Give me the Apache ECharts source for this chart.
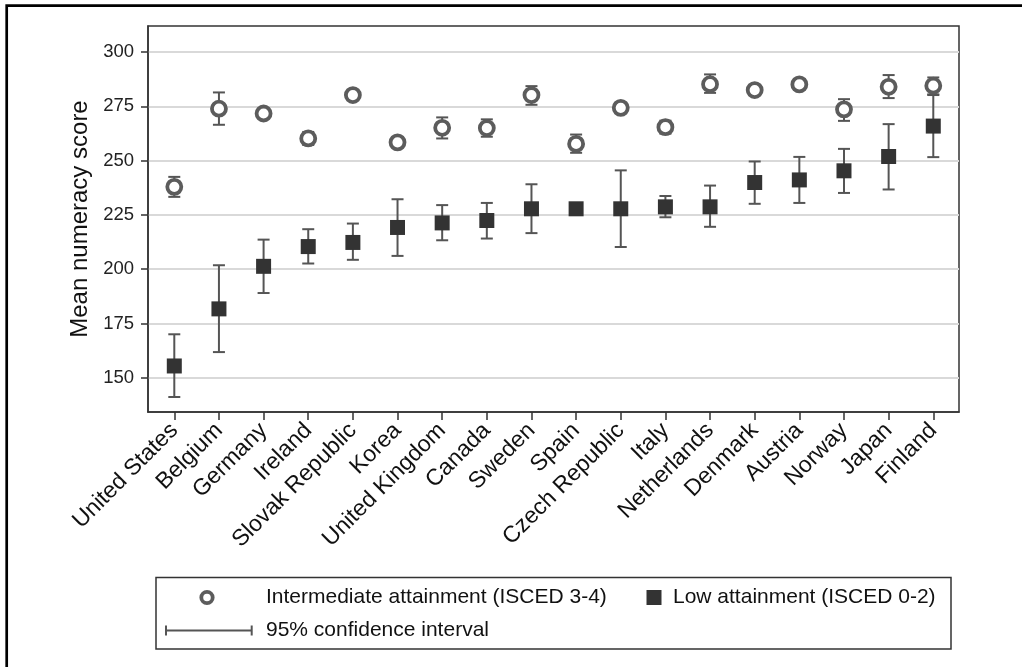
<!DOCTYPE html>
<html>
<head>
<meta charset="utf-8">
<title>Mean numeracy score</title>
<script src="https://cdn.jsdelivr.net/npm/echarts@6/dist/echarts.min.js"></script>
<style>
    html, body { margin: 0; padding: 0; background: #fff; }
    #chart { width: 1022px; height: 667px; }
</style>
</head>
<body>
<div id="chart"></div>
<script>
// countries, in the order of the chart
var countries = ['United States', 'Belgium', 'Germany', 'Ireland', 'Slovak Republic', 'Korea',
    'United Kingdom', 'Canada', 'Sweden', 'Spain', 'Czech Republic', 'Italy', 'Netherlands',
    'Denmark', 'Austria', 'Norway', 'Japan', 'Finland'];

// Intermediate attainment (ISCED 3-4): mean and 95% CI
var interMean = [237.9, 273.9, 271.7, 260.2, 280.2, 258.4, 265.1, 265.0, 280.2, 257.7, 274.3, 265.4, 285.2, 282.5, 285.1, 273.6, 284.0, 284.5];
var interLow  = [233.3, 266.5, 269.7, 257.2, 278.2, 256.4, 260.2, 261.0, 275.7, 253.6, 272.3, 262.4, 281.2, 280.5, 282.6, 268.3, 278.8, 280.5];
var interHigh = [242.5, 281.4, 273.7, 263.2, 282.2, 260.4, 269.9, 269.0, 284.3, 262.0, 276.3, 268.4, 289.7, 284.5, 287.6, 278.3, 289.4, 288.3];

// Low attainment (ISCED 0-2): mean and 95% CI
var lowMean = [155.4, 181.7, 201.3, 210.4, 212.3, 219.2, 221.3, 222.4, 227.8, 227.8, 227.8, 228.7, 228.7, 239.9, 241.1, 245.3, 251.9, 265.9];
var lowLow  = [141.1, 161.8, 189.0, 202.6, 204.3, 206.1, 213.3, 214.1, 216.6, 226.0, 210.2, 223.9, 219.5, 230.1, 230.5, 235.1, 236.7, 251.6];
var lowHigh = [170.0, 201.8, 213.6, 218.4, 221.0, 232.2, 229.5, 230.5, 239.1, 229.6, 245.5, 233.7, 238.5, 249.6, 251.7, 255.4, 266.8, 280.2];

var yTicks = [150, 175, 200, 225, 250, 275, 300];

var FONT = '"Liberation Sans", Arial, sans-serif';

var chart = echarts.init(document.getElementById('chart'), null, {renderer: 'canvas'});

var idx = countries.map(function (c, i) { return i; });

function pairs(vals) {
    return vals.map(function (v, i) { return [i, v]; });
}
function ranges(lo, hi) {
    return lo.map(function (v, i) { return [i, v, hi[i]]; });
}

//误差线
function renderBars(params, api) {
    var x = api.value(0);
    var lo = api.coord([x, api.value(1)]);
    var hi = api.coord([x, api.value(2)]);
    var w = 6;
    var style = {stroke: '#555', lineWidth: 2, fill: null};
    return {
        type: 'group',
        children: [
            {type: 'line', shape: {x1: hi[0], y1: hi[1], x2: lo[0], y2: lo[1]}, style: style},
            {type: 'line', shape: {x1: hi[0] - w, y1: hi[1], x2: hi[0] + w, y2: hi[1]}, style: style},
            {type: 'line', shape: {x1: lo[0] - w, y1: lo[1], x2: lo[0] + w, y2: lo[1]}, style: style}
        ]
    };
}

var option = {
    animation: false,
    backgroundColor: '#fff',
    textStyle: {fontFamily: FONT},
    grid: {
        left: 148, top: 26, width: 811, height: 386,
        show: true, borderColor: '#333', borderWidth: 1.5, backgroundColor: 'transparent'
    },
    xAxis: {
        type: 'value',
        min: -0.589,
        max: 17.576,
        axisLine: {show: true, onZero: false, lineStyle: {color: '#333', width: 1.5}},
        axisTick: {show: true, customValues: idx, length: 8, lineStyle: {color: '#333', width: 1.5}},
        axisLabel: {
            customValues: idx,
            rotate: 45,
            margin: 15,
            fontSize: 23,
            color: '#111',
            fontFamily: FONT,
            formatter: function (v) { return countries[Math.round(v)]; }
        },
        splitLine: {show: false}
    },
    yAxis: {
        type: 'value',
        min: 134.2,
        max: 312.0,
        name: 'Mean numeracy score',
        nameLocation: 'middle',
        nameGap: 53,
        nameTextStyle: {fontSize: 24, color: '#111', fontFamily: FONT},
        axisLine: {show: true, onZero: false, lineStyle: {color: '#333', width: 1.5}},
        axisTick: {show: true, customValues: yTicks, length: 7, lineStyle: {color: '#333', width: 1.5}},
        axisLabel: {customValues: yTicks, fontSize: 18.5, color: '#222', margin: 14, fontFamily: FONT},
        splitLine: {show: true, lineStyle: {color: '#d9d9d9', width: 2}}
    },
    series: [
        {
            name: 'ci-low',
            type: 'custom',
            renderItem: renderBars,
            encode: {x: 0, y: [1, 2]},
            data: ranges(lowLow, lowHigh),
            z: 2,
            silent: true
        },
        {
            name: 'ci-inter',
            type: 'custom',
            renderItem: renderBars,
            encode: {x: 0, y: [1, 2]},
            data: ranges(interLow, interHigh),
            z: 2,
            silent: true
        },
        {
            name: 'Low attainment (ISCED 0-2)',
            type: 'scatter',
            symbol: 'rect',
            symbolSize: 15,
            itemStyle: {color: '#333', opacity: 1},
            data: pairs(lowMean),
            z: 3,
            silent: true
        },
        {
            name: 'Intermediate attainment (ISCED 3-4)',
            type: 'scatter',
            symbol: 'circle',
            symbolSize: 14,
            itemStyle: {color: '#fff', borderColor: '#5c5c5c', borderWidth: 3.8, opacity: 1},
            data: pairs(interMean),
            z: 4,
            silent: true
        }
    ],
    graphic: [
        //外框
        {
            type: 'rect', silent: true, z: 100,
            shape: {x: 6.7, y: 5.7, width: 1100, height: 800},
            style: {fill: null, stroke: '#000', lineWidth: 2.7}
        },
        //图例
        {
            type: 'rect', silent: true,
            shape: {x: 156, y: 577.5, width: 795, height: 71.5},
            style: {fill: '#fff', stroke: '#333', lineWidth: 1.5}
        },
        {
            type: 'circle', silent: true,
            shape: {cx: 207, cy: 597.5, r: 5.7},
            style: {fill: '#fff', stroke: '#5c5c5c', lineWidth: 3.8}
        },
        {
            type: 'text', silent: true,
            x: 266, y: 597.5,
            style: {text: 'Intermediate attainment (ISCED 3-4)', fontSize: 21, fontFamily: FONT,
                fill: '#111', verticalAlign: 'middle', align: 'left'}
        },
        {
            type: 'rect', silent: true,
            shape: {x: 646.5, y: 590, width: 15, height: 15},
            style: {fill: '#333'}
        },
        {
            type: 'text', silent: true,
            x: 673, y: 597.5,
            style: {text: 'Low attainment (ISCED 0-2)', fontSize: 21, fontFamily: FONT,
                fill: '#111', verticalAlign: 'middle', align: 'left'}
        },
        {
            type: 'polyline', silent: true,
            shape: {points: [[166, 630.5], [251.7, 630.5]]},
            style: {stroke: '#555', lineWidth: 2, fill: null}
        },
        {
            type: 'line', silent: true,
            shape: {x1: 166, y1: 625.5, x2: 166, y2: 635.5},
            style: {stroke: '#555', lineWidth: 2}
        },
        {
            type: 'line', silent: true,
            shape: {x1: 251.7, y1: 625.5, x2: 251.7, y2: 635.5},
            style: {stroke: '#555', lineWidth: 2}
        },
        {
            type: 'text', silent: true,
            x: 266, y: 630.5,
            style: {text: '95% confidence interval', fontSize: 21, fontFamily: FONT,
                fill: '#111', verticalAlign: 'middle', align: 'left'}
        }
    ]
};

chart.setOption(option);
</script>
</body>
</html>
